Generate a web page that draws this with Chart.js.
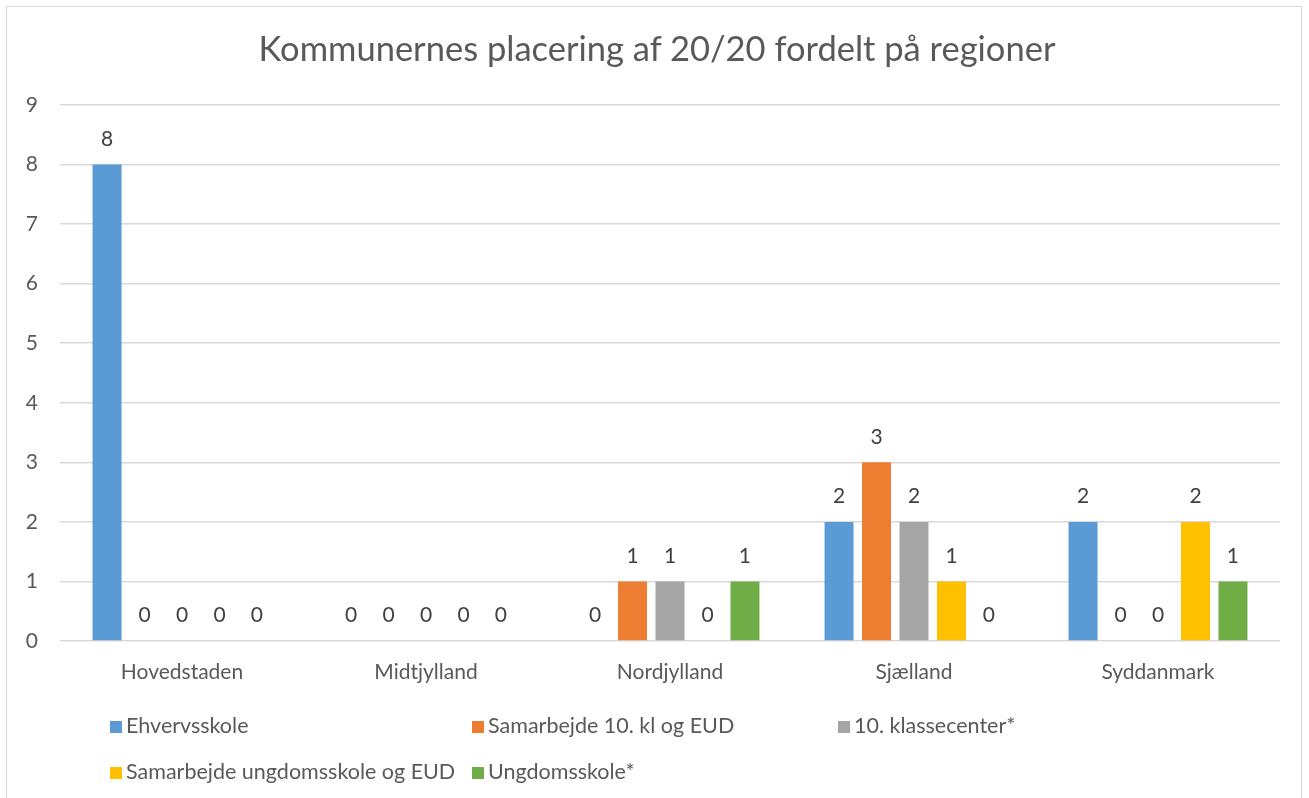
<!DOCTYPE html>
<html>
<head>
<meta charset="utf-8">
<script src="https://cdn.jsdelivr.net/npm/chart.js@4.4.0/dist/chart.umd.min.js"></script>
<style>
  html, body { margin: 0; padding: 0; background: #fff; }
  body { width: 1309px; height: 798px; position: relative; overflow: hidden; font-family: Lato, "Open Sans", sans-serif; color: #595959; }
  #frame { position: absolute; left: 6px; top: 6px; width: 1296px; height: 820px; border: 1px solid #d9d9d9; box-sizing: border-box; }
  #wrap { position: absolute; left: 0; top: 0; width: 1309px; height: 798px; }
  #title { position: absolute; left: 0; width: 1314px; top: 27px; text-align: center; font-size: 34.5px; color: #595959; }
  .leg { position: absolute; font-size: 21.5px; color: #595959; white-space: nowrap; line-height: 22px; }
  .leg span.sw { display: inline-block; width: 12px; height: 12px; margin-right: 4px; vertical-align: 0px; }
</style>
</head>
<body>
<div id="frame"></div>
<div id="wrap"><canvas id="c" width="1309" height="798"></canvas></div>
<div id="title">Kommunernes placering af 20/20 fordelt på regioner</div>
<div id="legend"></div>
<script>
const titleText = "Kommunernes placering af 20/20 fordelt på regioner";
const categories = ["Hovedstaden", "Midtjylland", "Nordjylland", "Sjælland", "Syddanmark"];
const seriesNames = ["Ehvervsskole", "Samarbejde 10. kl og EUD", "10. klassecenter*", "Samarbejde ungdomsskole og EUD", "Ungdomsskole*"];
const ehvervsskole = [8, 0, 0, 2, 2];
const samarbejde10 = [0, 0, 1, 3, 0];
const klassecenter = [0, 0, 1, 2, 0];
const samarbejdeUngdom = [0, 0, 0, 1, 2];
const ungdomsskole = [0, 0, 1, 0, 1];
const yTicks = [0, 1, 2, 3, 4, 5, 6, 7, 8, 9];
const colors = ["#5B9BD5", "#ED7D31", "#A5A5A5", "#FFC000", "#70AD47"];

document.getElementById('title').textContent = titleText;

const seriesValues = [ehvervsskole, samarbejde10, klassecenter, samarbejdeUngdom, ungdomsskole];

// HTML legend in a 3-column grid
const legendPos = [[110, 714], [472, 714], [838, 714], [110, 760], [472, 760]];
const legEl = document.getElementById('legend');
seriesNames.forEach((n, i) => {
  const d = document.createElement('div');
  d.className = 'leg';
  d.style.left = legendPos[i][0] + 'px';
  d.style.top = legendPos[i][1] + 'px';
  const sw = document.createElement('span');
  sw.className = 'sw';
  sw.style.background = colors[i];
  d.appendChild(sw);
  d.appendChild(document.createTextNode(n));
  legEl.appendChild(d);
});

const valueLabels = {
  id: 'valueLabels',
  afterDatasetsDraw(chart) {
    const ctx = chart.ctx;
    ctx.save();
    ctx.font = '21px Lato, "Open Sans", sans-serif';
    ctx.fillStyle = '#404040';
    ctx.textAlign = 'center';
    ctx.textBaseline = 'bottom';
    chart.data.datasets.forEach((ds, di) => {
      const meta = chart.getDatasetMeta(di);
      meta.data.forEach((bar, i) => {
        ctx.fillText(String(ds.data[i]), bar.x, bar.y - 15);
      });
    });
    ctx.restore();
  }
};

new Chart(document.getElementById('c'), {
  type: 'bar',
  data: {
    labels: categories,
    datasets: seriesNames.map((n, i) => ({
      label: n,
      data: seriesValues[i],
      backgroundColor: colors[i],
      borderWidth: 0,
      categoryPercentage: 0.768,
      barPercentage: 0.773
    }))
  },
  options: {
    responsive: false,
    animation: false,
    devicePixelRatio: 1,
    layout: { padding: { left: 0, top: 105, right: 29, bottom: 107 } },
    plugins: { legend: { display: false }, title: { display: false }, tooltip: { enabled: false } },
    scales: {
      x: {
        grid: { display: false, drawTicks: false },
        border: { display: false },
        ticks: { color: '#595959', font: { size: 21, family: 'Lato, "Open Sans", sans-serif' }, padding: 19 },
        afterFit(scale) { scale.height = 50; }
      },
      y: {
        min: 0, max: 9,
        afterBuildTicks(scale) { scale.ticks = yTicks.map(v => ({ value: v })); },
        grid: { color: '#d9d9d9', lineWidth: 1.5, drawTicks: false },
        border: { display: false },
        ticks: { color: '#595959', font: { size: 21, family: 'Lato, "Open Sans", sans-serif' }, padding: 22 },
        afterFit(scale) { scale.width = 60; }
      }
    }
  },
  plugins: [valueLabels]
});
</script>
</body>
</html>
